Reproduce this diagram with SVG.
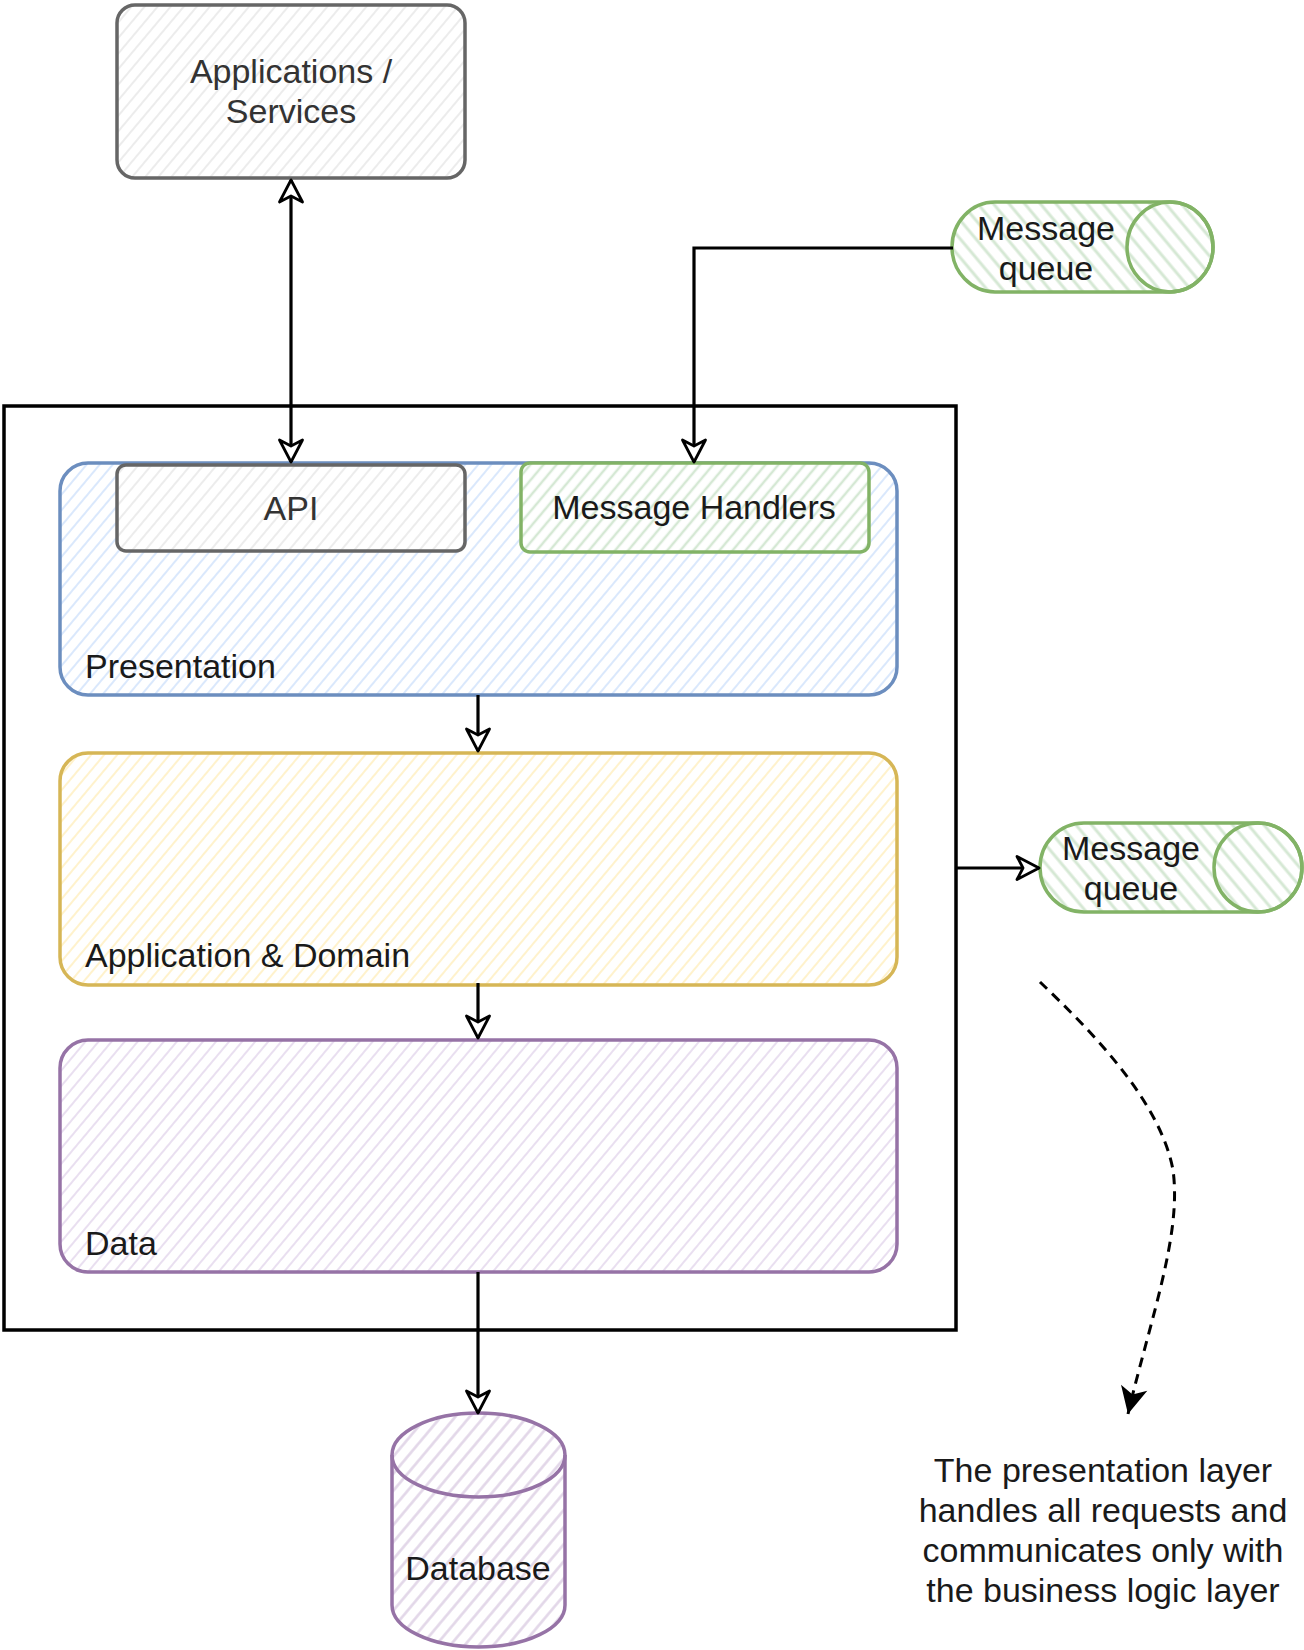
<svg xmlns="http://www.w3.org/2000/svg" width="1304" height="1650" viewBox="0 0 1304 1650">
<style>
  text { font-family: "Liberation Sans", Arial, Helvetica, sans-serif; font-size: 34px; fill: #1a1a1a; }
  .c { text-anchor: middle; }
  .g { fill: #333333; }
  .edge { fill: none; stroke: #000; stroke-width: 3.2; }
  .dash { fill: none; stroke: #000; stroke-width: 3; stroke-dasharray: 10 7; }
  .sk { stroke-width: 3.5; stroke-linejoin: round; }
</style>
<defs>
  <pattern id="hGray" patternUnits="userSpaceOnUse" width="10" height="10" patternTransform="rotate(40)"><rect width="10" height="10" fill="#fff"/><line x1="5" y1="0" x2="5" y2="10" stroke="#ececec" stroke-width="2"/></pattern>
  <pattern id="hBlue" patternUnits="userSpaceOnUse" width="10" height="10" patternTransform="rotate(40)"><rect width="10" height="10" fill="#fff"/><line x1="5" y1="0" x2="5" y2="10" stroke="#dae8fc" stroke-width="2"/></pattern>
  <pattern id="hGreen" patternUnits="userSpaceOnUse" width="10" height="10" patternTransform="rotate(40)"><rect width="10" height="10" fill="#fff"/><line x1="5" y1="0" x2="5" y2="10" stroke="#d5e8d4" stroke-width="2.5"/></pattern>
  <pattern id="hGreenR" patternUnits="userSpaceOnUse" width="12" height="12" patternTransform="rotate(-40)"><rect width="12" height="12" fill="#fff"/><line x1="6" y1="0" x2="6" y2="12" stroke="#d5e8d4" stroke-width="3"/></pattern>
  <pattern id="hYellow" patternUnits="userSpaceOnUse" width="10" height="10" patternTransform="rotate(40)"><rect width="10" height="10" fill="#fff"/><line x1="5" y1="0" x2="5" y2="10" stroke="#fff2cc" stroke-width="2"/></pattern>
  <pattern id="hPurple" patternUnits="userSpaceOnUse" width="10" height="10" patternTransform="rotate(40)"><rect width="10" height="10" fill="#fff"/><line x1="5" y1="0" x2="5" y2="10" stroke="#e9dff0" stroke-width="2"/></pattern>
  <pattern id="hPurpleDb" patternUnits="userSpaceOnUse" width="11" height="11" patternTransform="rotate(40)"><rect width="11" height="11" fill="#fff"/><line x1="5.5" y1="0" x2="5.5" y2="11" stroke="#e1d5e7" stroke-width="2.5"/></pattern>
  <marker id="ao" markerUnits="userSpaceOnUse" markerWidth="30" markerHeight="30" viewBox="0 0 30 30" refX="26" refY="15" orient="auto-start-reverse">
    <path d="M26,15 L4,3.5 L10,15 L4,26.5 Z" fill="#fff" stroke="#000" stroke-width="2.8" stroke-linejoin="round"/>
  </marker>
  <marker id="af" markerUnits="userSpaceOnUse" markerWidth="32" markerHeight="32" viewBox="0 0 32 32" refX="29" refY="16" orient="auto">
    <path d="M29,16 L2,2.5 L9,16 L2,29.5 Z" fill="#000"/>
  </marker>
</defs>

<g id="outer-container">
  <rect x="4" y="406" width="952" height="924" fill="none" stroke="#000" stroke-width="3.5"/>
</g>

<g id="applications-services">
  <rect x="117" y="5" width="348" height="173" rx="18" fill="url(#hGray)" stroke="#666666" class="sk"/>
  <text class="c g" x="291" y="83">Applications /</text>
  <text class="c g" x="291" y="123">Services</text>
</g>

<g id="presentation">
  <rect x="60" y="463" width="837" height="232" rx="28" fill="url(#hBlue)" stroke="#6c8ebf" class="sk"/>
  <text x="85" y="678">Presentation</text>
</g>

<g id="api">
  <rect x="117" y="465" width="348" height="86" rx="9" fill="url(#hGray)" stroke="#666666" class="sk"/>
  <text class="c g" x="291" y="520">API</text>
</g>

<g id="message-handlers">
  <rect x="521" y="463" width="348" height="89" rx="9" fill="url(#hGreen)" stroke="#82b366" class="sk"/>
  <text class="c" x="694" y="519">Message Handlers</text>
</g>

<g id="application-domain">
  <rect x="60" y="753" width="837" height="232" rx="28" fill="url(#hYellow)" stroke="#d6b656" class="sk"/>
  <text x="85" y="967">Application &amp; Domain</text>
</g>

<g id="data">
  <rect x="60" y="1040" width="837" height="232" rx="28" fill="url(#hPurple)" stroke="#9673a6" class="sk"/>
  <text x="85" y="1255">Data</text>
</g>

<g id="message-queue-top">
  <path d="M995,202 L1170,202 A43,45 0 0 1 1170,292 L995,292 A43,45 0 0 1 995,202 Z" fill="url(#hGreenR)" stroke="#82b366" class="sk"/>
  <ellipse cx="1170" cy="247" rx="43" ry="45" fill="none" stroke="#82b366" stroke-width="3.5"/>
  <text class="c" x="1046" y="240">Message</text>
  <text class="c" x="1046" y="280">queue</text>
</g>

<g id="message-queue-right">
  <path d="M1084,823 L1258,823 A44,44.5 0 0 1 1258,912 L1084,912 A44,44.5 0 0 1 1084,823 Z" fill="url(#hGreenR)" stroke="#82b366" class="sk"/>
  <ellipse cx="1258" cy="867.5" rx="44" ry="44.5" fill="none" stroke="#82b366" stroke-width="3.5"/>
  <text class="c" x="1131" y="860">Message</text>
  <text class="c" x="1131" y="900">queue</text>
</g>

<g id="database">
  <path d="M392,1455 A86.5,42 0 0 1 565,1455 L565,1605 A86.5,42 0 0 1 392,1605 Z" fill="url(#hPurpleDb)" stroke="#9673a6" class="sk"/>
  <path d="M392,1455 A86.5,42 0 0 0 565,1455" fill="none" stroke="#9673a6" stroke-width="3.5"/>
  <text class="c" x="478" y="1580">Database</text>
</g>

<g id="note">
  <text class="c" x="1103" y="1482">The presentation layer</text>
  <text class="c" x="1103" y="1522">handles all requests and</text>
  <text class="c" x="1103" y="1562">communicates only with</text>
  <text class="c" x="1103" y="1602">the business logic layer</text>
</g>

<g id="connectors">
  <path class="edge" d="M291,180 L291,462" marker-start="url(#ao)" marker-end="url(#ao)"/>
  <path class="edge" d="M953,248 L694,248 L694,462" marker-end="url(#ao)"/>
  <path class="edge" d="M478,695 L478,751" marker-end="url(#ao)"/>
  <path class="edge" d="M478,983 L478,1038" marker-end="url(#ao)"/>
  <path class="edge" d="M478,1272 L478,1413" marker-end="url(#ao)"/>
  <path class="edge" d="M956,868 L1039,868" marker-end="url(#ao)"/>
  <path class="dash" d="M1040,982 C1090,1030 1160,1100 1173,1170 C1182,1235 1150,1320 1128,1414" marker-end="url(#af)"/>
</g>
</svg>
